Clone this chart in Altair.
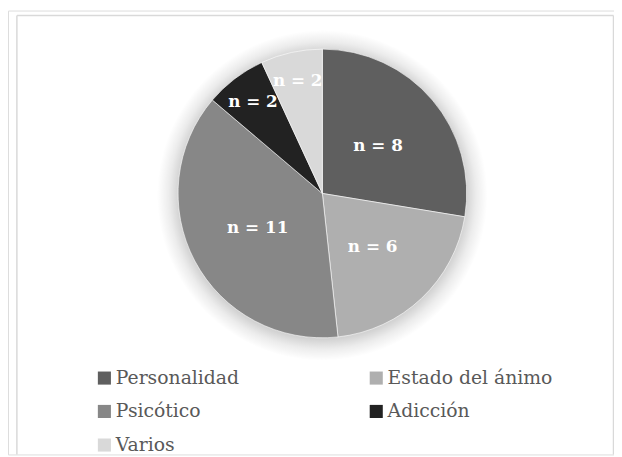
import math
import altair as alt
import pandas as pd

categories = ["Personalidad", "Estado del ánimo", "Psicótico", "Adicción", "Varios"]
counts = [8, 6, 11, 2, 2]
colors = ["#5f5f5f", "#afafaf", "#878787", "#222222", "#d9d9d9"]

df = pd.DataFrame({
    "cat": categories,
    "n": counts,
    "idx": list(range(len(categories))),
    "label": [f"n = {v}" for v in counts],
})
one = pd.DataFrame({"d": [0]})

SERIF = "DejaVu Serif"
W, H = 613, 449
CX, CY, R = 318, 185, 146

shadow = alt.Chart(one).mark_arc(
    color=alt.Gradient(
        gradient="radial",
        stops=[
            alt.GradientStop(offset=0, color="#d2d2d2"),
            alt.GradientStop(offset=0.87, color="#d2d2d2"),
            alt.GradientStop(offset=0.93, color="#ececec"),
            alt.GradientStop(offset=1, color="#ffffff"),
        ],
        x1=0.5, y1=0.5, x2=0.5, y2=0.5, r1=0, r2=0.5,
    ),
    outerRadius=167,
).encode(
    theta=alt.value(0), theta2=alt.value(2 * math.pi),
    x=alt.value(CX), y=alt.value(CY + 2),
)

pie = alt.Chart(df).mark_arc(outerRadius=R, stroke="#ffffff", strokeWidth=0.6).encode(
    theta=alt.Theta("n:Q", stack=True),
    color=alt.Color(
        "cat:N",
        scale=alt.Scale(domain=categories, range=colors),
        legend=alt.Legend(
            title=None,
            orient="none",
            legendX=88,
            legendY=362,
            columns=2,
            direction="horizontal",
            symbolType="square",
            symbolSize=175,
            symbolStrokeWidth=0,
            symbolOpacity=1,
            labelFont=SERIF,
            labelFontSize=19,
            labelColor="#595959",
            labelOffset=2,
            rowPadding=14,
            columnPadding=129,
            padding=0,
            labelLimit=400,
        ),
    ),
    order=alt.Order("idx:Q"),
    x=alt.value(CX), y=alt.value(CY),
)

labels = alt.Chart(df).transform_joinaggregate(
    total="sum(n)"
).transform_window(
    cum="sum(n)", sort=[alt.SortField("idx", order="ascending")],
    frame=[None, 0],
).transform_calculate(
    mid="(datum.cum - datum.n / 2) / datum.total * 2 * PI",
    rad="datum.n >= 6 ? 74 : 116",
).mark_text(
    font=SERIF, fontSize=17, fontWeight="bold", color="#ffffff",
    align="center", baseline="middle",
).encode(
    theta=alt.Theta("mid:Q", scale=None, stack=None),
    radius=alt.Radius("rad:Q", scale=None),
    text="label:N",
    x=alt.value(CX), y=alt.value(CY),
)

frame_color = "#d9d9d9"
top = alt.Chart(one).mark_rule(color=frame_color, strokeWidth=1.5).encode(
    x=alt.value(9), x2=alt.value(612.5), y=alt.value(5))
left = alt.Chart(one).mark_rule(color=frame_color, strokeWidth=1.5).encode(
    x=alt.value(9), y=alt.value(5), y2=alt.value(H))
right = alt.Chart(one).mark_rule(color=frame_color, strokeWidth=1.5).encode(
    x=alt.value(612.5), y=alt.value(5), y2=alt.value(H))

chart = alt.layer(shadow, pie, labels, top, left, right).properties(
    width=W, height=H,
    autosize=alt.AutoSizeParams(type="none"),
    padding=0,
).configure_view(strokeWidth=0).configure(background="#ffffff")

chart.save("out.html", embed_options={"renderer": "svg", "actions": False})
